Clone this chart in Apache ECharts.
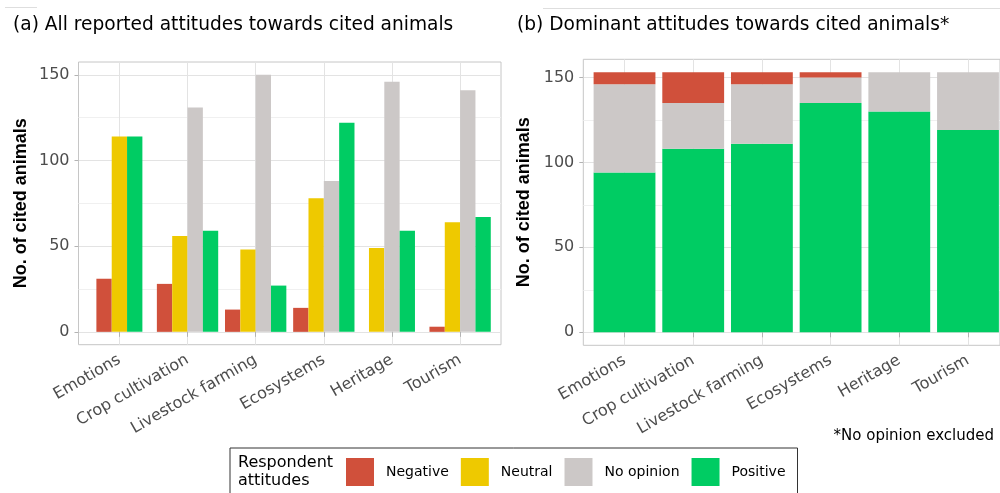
<!DOCTYPE html>
<html>
<head>
<meta charset="utf-8">
<script src="https://cdn.jsdelivr.net/npm/echarts@6/dist/echarts.min.js"></script>
<style>html,body{margin:0;padding:0;background:#fff}#c{width:1000px;height:493px}</style>
</head>
<body>
<div id="c"></div>
<script>
// ---- data ----
const categories = ['Emotions', 'Crop cultivation', 'Livestock farming', 'Ecosystems', 'Heritage', 'Tourism'];
const attitudes = ['Negative', 'Neutral', 'No opinion', 'Positive'];
// (a) all reported attitudes (null = no bar)
const allNegative  = [31, 28, 13, 14, null, 3];
const allNeutral   = [114, 56, 48, 78, 49, 64];
const allNoOpinion = [null, 131, 150, 88, 146, 141];
const allPositive  = [114, 59, 27, 122, 59, 67];
// (b) dominant attitudes (stacked, bottom to top: Positive, No opinion, Negative)
const domPositive  = [94, 108, 111, 135, 130, 119];
const domNoOpinion = [52, 27, 35, 15, 23, 34];
const domNegative  = [7, 18, 7, 3, 0, 0];
const yTicks = [0, 50, 100, 150];

// ---- styles ----
const colors = {'Negative': '#d0503b', 'Neutral': '#eec900', 'No opinion': '#ccc8c7', 'Positive': '#00cc63'};
const FONT = 'DejaVu Sans';
const panelA = {left: 78.5, right: 501, top: 62, bottom: 344.7, ymin: -7.5, ymax: 157.5};
const panelB = {left: 583.3, right: 1009.2, top: 59.3, bottom: 345.3, ymin: -7.65, ymax: 160.65};

function yPix(p, v) { return p.bottom - (v - p.ymin) / (p.ymax - p.ymin) * (p.bottom - p.top); }

const grids = [], xAxes = [], yAxes = [];
function addPanel(p, yName, nameGap) {
  const base = grids.length;
  const band = (p.right - p.left) / (categories.length + 0.2);
  const firstTick = p.left + 0.6 * band;
  const yTop = yPix(p, yTicks[yTicks.length - 1]);
  const yBot = yPix(p, yTicks[0]);
  // g0: panel border + axis title
  grids.push({left: p.left, top: p.top, width: p.right - p.left, height: p.bottom - p.top,
    show: true, borderColor: '#c6c6c6', borderWidth: 1, backgroundColor: 'transparent'});
  xAxes.push({gridIndex: base, type: 'value', show: false, min: 0, max: 1});
  yAxes.push({gridIndex: base, type: 'value', min: 0, max: 1, show: true,
    axisLine: {show: false}, axisTick: {show: false}, axisLabel: {show: false}, splitLine: {show: false},
    name: yName, nameLocation: 'middle', nameGap: nameGap, nameRotate: 90,
    nameTextStyle: {fontFamily: 'Liberation Sans', fontWeight: 'bold', fontSize: 18, color: '#000'}});
  // g1: y gridlines + labels
  grids.push({left: p.left, top: yTop, width: p.right - p.left, height: yBot - yTop});
  xAxes.push({gridIndex: base + 1, type: 'value', show: false, min: 0, max: 1});
  yAxes.push({gridIndex: base + 1, type: 'value', min: yTicks[0], max: yTicks[yTicks.length - 1], interval: 50,
    axisLine: {show: false},
    axisTick: {show: true, length: 4, lineStyle: {color: '#b3b3b3'}},
    axisLabel: {margin: 9, fontFamily: FONT, fontSize: 16, color: '#4d4d4d'},
    splitLine: {lineStyle: {color: '#e3e3e3', width: 1}},
    minorTick: {show: false, splitNumber: 2},
    minorSplitLine: {show: true, lineStyle: {color: '#f0f0f0', width: 1}}});
  // g2: x ticks/labels + bars
  grids.push({left: firstTick, top: p.top, width: band * (categories.length - 1), height: p.bottom - p.top});
  xAxes.push({gridIndex: base + 2, type: 'value', min: 0, max: categories.length - 1, interval: 1,
    axisLine: {show: false},
    axisTick: {show: true, length: 5, lineStyle: {color: '#b3b3b3'}},
    axisLabel: {rotate: 30, margin: 14, fontFamily: FONT, fontSize: 16, color: '#4d4d4d',
      showMinLabel: true, showMaxLabel: true,
      formatter: v => categories[Math.round(v)] || ''},
    splitLine: {show: true, lineStyle: {color: '#e3e3e3', width: 1}}});
  yAxes.push({gridIndex: base + 2, type: 'value', show: false, min: p.ymin, max: p.ymax});
  return base + 2;
}
const gA = addPanel(panelA, 'No. of cited animals', 48);
const gB = addPanel(panelB, 'No. of cited animals', 50);

// ---- panel (a): dodged bars ----
const allSeries = {'Negative': allNegative, 'Neutral': allNeutral, 'No opinion': allNoOpinion, 'Positive': allPositive};
const series = [];
attitudes.forEach((name, k) => {
  const data = [];
  categories.forEach((c, i) => {
    const v = allSeries[name][i];
    if (v === null) return;
    let slot = 0, n = 0;
    attitudes.forEach((other, j) => {
      if (allSeries[other][i] !== null) { if (j < k) slot++; n++; }
    });
    data.push([i, v, slot, n]);
  });
  series.push({
    type: 'custom', name, xAxisIndex: gA, yAxisIndex: gA,
    itemStyle: {color: colors[name]},
    encode: {x: 0, y: 1},
    renderItem: (params, api) => {
      const i = api.value(0), v = api.value(1), slot = api.value(2), n = api.value(3);
      const band = api.size([1, 0])[0];
      const w = band * 0.9 / 4;
      const top = api.coord([i, v]);
      const zero = api.coord([i, 0]);
      return {type: 'rect',
        shape: {x: top[0] - n * w / 2 + slot * w, y: top[1], width: w, height: zero[1] - top[1]},
        style: {fill: colors[name]}};
    },
    data
  });
});

// ---- panel (b): stacked bars ----
const domOrder = [['Positive', domPositive], ['No opinion', domNoOpinion], ['Negative', domNegative]];
const cum = categories.map(() => 0);
domOrder.forEach(([name, arr]) => {
  const data = categories.map((c, i) => {
    const b = cum[i];
    cum[i] += arr[i];
    return [i, b, cum[i]];
  });
  series.push({
    type: 'custom', name, xAxisIndex: gB, yAxisIndex: gB,
    itemStyle: {color: colors[name]},
    encode: {x: 0, y: [1, 2]},
    renderItem: (params, api) => {
      const i = api.value(0), b = api.value(1), t = api.value(2);
      if (t <= b) return null;
      const band = api.size([1, 0])[0];
      const w = band * 0.9;
      const p1 = api.coord([i, t]);
      const p0 = api.coord([i, b]);
      return {type: 'rect', shape: {x: p1[0] - w / 2, y: p1[1], width: w, height: p0[1] - p1[1]},
        style: {fill: colors[name]}};
    },
    data
  });
});

const option = {
  animation: false,
  backgroundColor: '#fff',
  grid: grids,
  xAxis: xAxes,
  yAxis: yAxes,
  legend: {
    left: 230, top: 448, orient: 'horizontal',
    padding: [10, 12, 20, 116],
    itemWidth: 28, itemHeight: 28, itemGap: 12, icon: 'rect',
    borderColor: '#333', borderWidth: 1,
    selectedMode: false,
    itemStyle: {borderWidth: 0},
    textStyle: {fontFamily: FONT, fontSize: 14, color: '#000', padding: [0, 0, 0, 7]},
    data: attitudes
  },
  graphic: [
    {type: 'text', x: 13, y: 25.5, style: {text: '(a) All reported attitudes towards cited animals',
      fontFamily: FONT, fontSize: 18.6, fill: '#000', verticalAlign: 'middle'}},
    {type: 'text', x: 517, y: 25.5, style: {text: '(b) Dominant attitudes towards cited animals*',
      fontFamily: FONT, fontSize: 18.6, fill: '#000', verticalAlign: 'middle'}},
    {type: 'text', x: 994, y: 436, style: {text: '*No opinion excluded', align: 'right',
      fontFamily: FONT, fontSize: 15, fill: '#000', verticalAlign: 'middle'}},
    {type: 'text', x: 238, y: 454, style: {text: 'Respondent\nattitudes', lineHeight: 18,
      fontFamily: FONT, fontSize: 16, fill: '#000', verticalAlign: 'top'}},
    {type: 'line', shape: {x1: 5, y1: 7.5, x2: 37, y2: 7.5}, style: {stroke: '#dedede', lineWidth: 1}},
    {type: 'line', shape: {x1: 543, y1: 8.5, x2: 1000, y2: 8.5}, style: {stroke: '#dedede', lineWidth: 1}}
  ],
  series
};
const chart = echarts.init(document.getElementById('c'), null, {renderer: 'canvas'});
chart.setOption(option);
</script>
</body>
</html>
